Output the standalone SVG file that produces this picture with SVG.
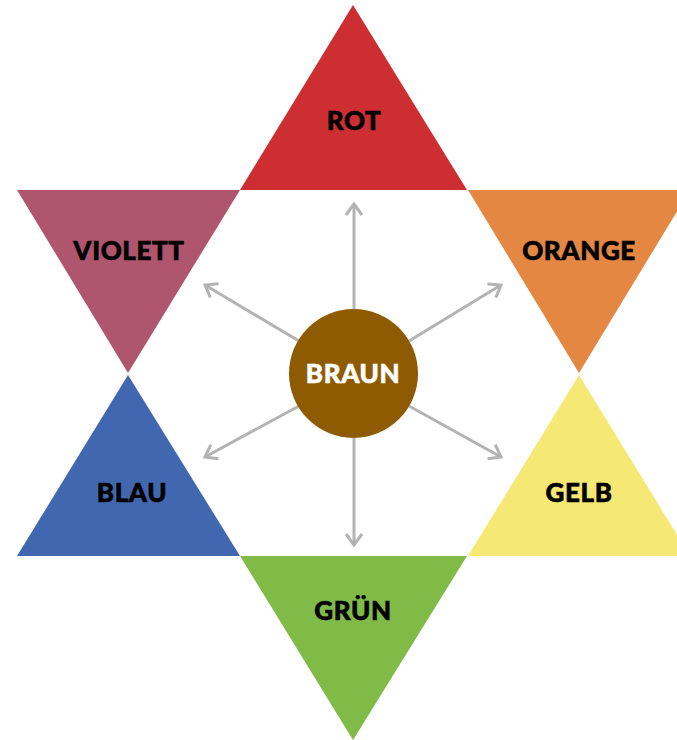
<svg xmlns="http://www.w3.org/2000/svg" width="677" height="740" viewBox="0 0 677 740">
<style>
.lbl{font-family:Lato,"Open Sans","Liberation Sans",sans-serif;font-weight:900;font-size:26px;text-anchor:middle;fill:#000;stroke:#000;stroke-width:0.6;letter-spacing:0.6px}
.white{fill:#fff;stroke:#fff}
.conn line{stroke:#b3b3b3;stroke-width:3;fill:none}
</style>
<defs>
<marker id="arr" viewBox="0 0 20 20" refX="17" refY="10" markerWidth="20" markerHeight="20" markerUnits="userSpaceOnUse" orient="auto">
<path d="M6 2 L17 10 L6 18" fill="none" stroke="#b3b3b3" stroke-width="3"/>
</marker>
</defs>
<rect width="677" height="740" fill="#fff"/>
<g id="rot"><polygon points="353,5 467,190 240,190" fill="#cc2e32"/><text class="lbl" x="354" y="130">ROT</text></g>
<g id="violett"><polygon points="17,190 240,190 128,373" fill="#b0556e"/><text class="lbl" x="129" y="260">VIOLETT</text></g>
<g id="orange"><polygon points="468,190 690,190 579,373" fill="#e38743"/><text class="lbl" x="579" y="260">ORANGE</text></g>
<g id="blau"><polygon points="128,375 240,556 17,556" fill="#4267b1"/><text class="lbl" x="132" y="502">BLAU</text></g>
<g id="gelb"><polygon points="579,375 690,556 468,556" fill="#f5e874"/><text class="lbl" x="579" y="502">GELB</text></g>
<g id="gruen"><polygon points="240,556 467,556 353,740" fill="#80bb48"/><text class="lbl" x="353" y="620">GRÜN</text></g>
<g class="conn" id="connectors">
<line x1="354" y1="310" x2="354" y2="204" marker-end="url(#arr)"/>
<line x1="354" y1="438" x2="354" y2="545" marker-end="url(#arr)"/>
<line x1="299" y1="341" x2="205" y2="285" marker-end="url(#arr)"/>
<line x1="409" y1="341" x2="501" y2="285" marker-end="url(#arr)"/>
<line x1="299" y1="406" x2="205" y2="457" marker-end="url(#arr)"/>
<line x1="409" y1="406" x2="501" y2="457" marker-end="url(#arr)"/>
</g>
<g id="braun"><circle cx="353.5" cy="373.5" r="64.5" fill="#8e5b02"/><text class="lbl white" x="353" y="383">BRAUN</text></g>
</svg>
